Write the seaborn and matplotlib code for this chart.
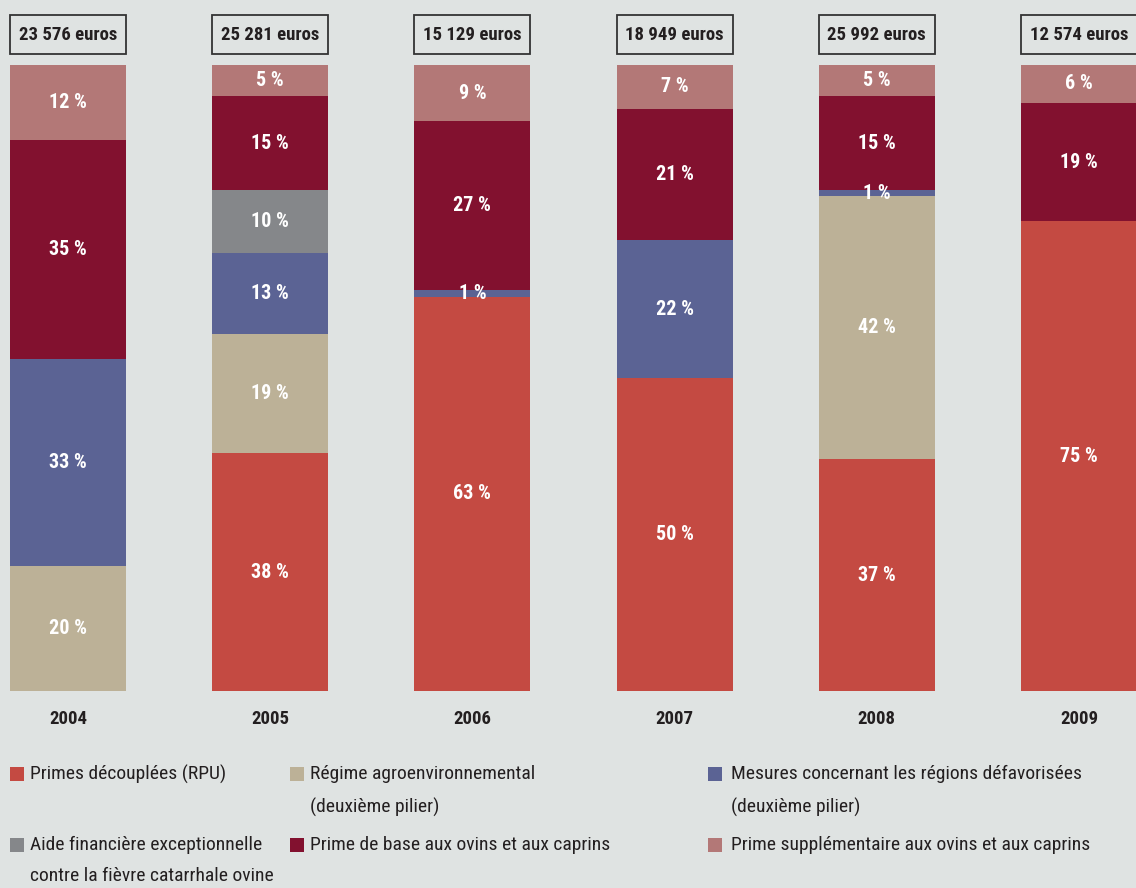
import numpy as np
import pandas as pd
import matplotlib
matplotlib.use("Agg")
import matplotlib.pyplot as plt
from matplotlib.patches import Rectangle
from matplotlib import font_manager as fm
import seaborn as sns

years = ["2004", "2005", "2006", "2007", "2008", "2009"]
totals = ["23 576 euros", "25 281 euros", "15 129 euros", "18 949 euros", "25 992 euros", "12 574 euros"]

categories = [
    "Primes découplées (RPU)",
    "Régime agroenvironnemental\n(deuxième pilier)",
    "Mesures concernant les régions défavorisées\n(deuxième pilier)",
    "Aide financière exceptionnelle\ncontre la fièvre catarrhale ovine",
    "Prime de base aux ovins et aux caprins",
    "Prime supplémentaire aux ovins et aux caprins",
]
rpu = [0, 38, 63, 50, 37, 75]
agro = [20, 19, 0, 0, 42, 0]
mesures = [33, 13, 1, 22, 1, 0]
aide = [0, 10, 0, 0, 0, 0]
base = [35, 15, 27, 21, 15, 19]
supp = [12, 5, 9, 7, 5, 6]
series = [rpu, agro, mesures, aide, base, supp]
colors = ["#C44A42", "#BCB197", "#5B6394", "#85878A", "#82112F", "#B37877"]

BG = "#DFE3E2"
TXT = "#231F20"

sns.set_style("white")
names = {f.name for f in fm.fontManager.ttflist}
fam = "DejaVu Sans"
for cand in ["Liberation Sans Narrow", "DejaVu Sans Condensed", "Roboto Condensed", "Liberation Sans"]:
    if cand in names:
        fam = cand
        break
plt.rcParams["font.family"] = [fam, "DejaVu Sans"]

W, H = 1136, 888
fig = plt.figure(figsize=(W / 100, H / 100), dpi=100, facecolor=BG)
ax = fig.add_axes([0, 1 - 691 / H, 1, 626 / H])
ax.set_facecolor(BG)

bw = 116 / 202.2
rows = []
for cat, vals in zip(categories, series):
    for y, v in zip(years, vals):
        rows.append({"year": y, "cat": cat, "value": v})
df = pd.DataFrame(rows)

cum = np.zeros(len(years))
for cat, vals, col in zip(categories, series, colors):
    sub = df[df["cat"] == cat]
    sns.barplot(data=sub, x="year", y="value", order=years, bottom=cum.copy(),
                color=col, saturation=1, width=bw, errorbar=None, ax=ax,
                linewidth=0, edgecolor=col)
    for i, v in enumerate(vals):
        if v > 0:
            ax.text(i, cum[i] + v / 2, f"{v} %", ha="center", va="center",
                    color="white", fontsize=14.5, fontweight="bold")
    cum += np.array(vals)

ax.set_xlim(-68 / 202.2, 5 + (W - 1079) / 202.2)
ax.set_ylim(0, 100)
for s in ax.spines.values():
    s.set_visible(False)
ax.set_yticks([])
ax.set_xlabel("")
ax.set_ylabel("")
ax.tick_params(axis="x", length=0, pad=14)
ax.set_xticks(range(len(years)))
ax.set_xticklabels(years, fontsize=13.5, fontweight="bold", color=TXT)

# total boxes
u = 626 / 100
for i, t in enumerate(totals):
    y0 = 100 + (65 - 54) / u
    y1 = 100 + (65 - 15) / u
    ax.add_patch(Rectangle((i - bw / 2, y0), bw, y1 - y0, facecolor=BG,
                           edgecolor="#333333", linewidth=1.3, clip_on=False))
    ax.text(i, (y0 + y1) / 2, t, ha="center", va="center", fontsize=13.5,
            fontweight="bold", color=TXT, clip_on=False)

# legend (manual layout)
leg = [
    (0, 10, 30, 774, 807),
    (1, 290, 310, 774, 807),
    (2, 708, 731, 774, 807),
    (3, 10, 30, 845, 876),
    (4, 290, 310, 845, 876),
    (5, 708, 731, 845, 876),
]
for idx, sx, tx, y1, y2 in leg:
    fig.patches.append(Rectangle((sx / W, 1 - (y1 + 7) / H), 14 / W, 14 / H,
                                 transform=fig.transFigure, facecolor=colors[idx],
                                 edgecolor="none"))
    lines = categories[idx].split("\n")
    for k, line in enumerate(lines):
        yy = y1 if k == 0 else y2
        fig.text(tx / W, 1 - yy / H, line, ha="left", va="center",
                 fontsize=14, color=TXT)

fig.savefig("out.png", dpi=100, facecolor=BG)
